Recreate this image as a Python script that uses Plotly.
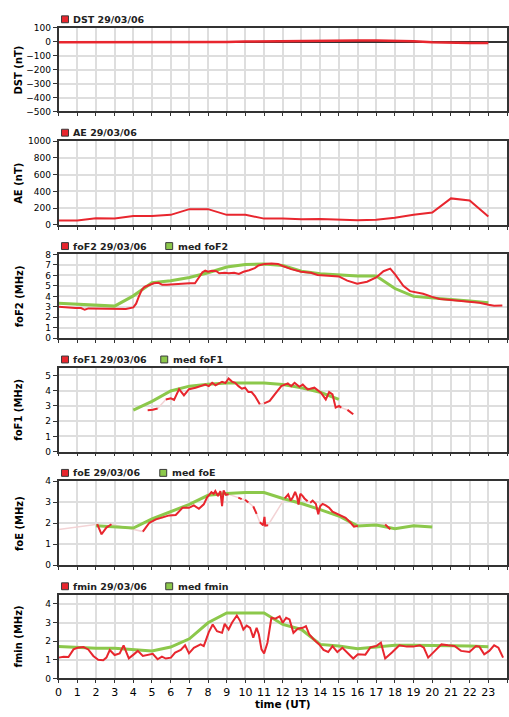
import plotly.graph_objects as go

# ---------------- data ----------------
hours24 = list(range(24))
tick_hours = list(range(25))
tick_labels = [str(h) for h in range(24)] + ["0"]

dst_values = [-5, -5, -4, -4, -2, 0, -2, -3, -3, -2, 1, 3, 5, 6, 7, 8, 8, 8, 6, 2, -4, -8, -9, -9]
ae_values = [52, 52, 80, 75, 105, 105, 120, 188, 188, 120, 120, 75, 75, 68, 70, 65, 55, 60, 84, 120, 148, 316, 292, 100]

fof2_hours = [0.0, 0.3, 0.6, 0.9, 1.2, 1.4, 1.6, 2.0, 2.5, 3.0, 3.3, 3.6, 4.0, 4.15, 4.3, 4.45, 4.6, 4.85,
              5.1, 5.35, 5.55, 5.8, 6.1, 6.4, 6.7, 7.0, 7.3, 7.5, 7.7, 7.85, 8.0, 8.2, 8.45, 8.6, 8.9, 9.1,
              9.4, 9.65, 9.9, 10.2, 10.5, 10.7, 11.04, 11.39, 11.74, 12.0, 12.45, 12.98, 13.51, 13.86,
              14.39, 15.0, 15.45, 15.98, 16.51, 17.0, 17.39, 17.75, 18.01, 18.45, 18.81, 19.16, 19.51,
              20.0, 20.39, 21.0, 21.63, 22.0, 22.52, 23.01, 23.31, 23.75]
fof2_values = [3.0, 2.95, 2.95, 2.9, 2.88, 2.72, 2.85, 2.85, 2.85, 2.82, 2.82, 2.8, 2.95, 3.3, 4.0, 4.6, 4.9, 5.1,
               5.25, 5.3, 5.1, 5.1, 5.15, 5.2, 5.25, 5.25, 5.25, 5.8, 6.3, 6.45, 6.35, 6.45, 6.4, 6.2, 6.25, 6.2,
               6.25, 6.15, 6.35, 6.5, 6.7, 6.95, 7.1, 7.15, 7.1, 6.9, 6.6, 6.35, 6.25, 6.05,
               5.95, 5.9, 5.5, 5.2, 5.4, 5.8, 6.4, 6.65, 6.1, 5.0, 4.5, 4.35, 4.25,
               3.95, 3.75, 3.65, 3.55, 3.55, 3.4, 3.2, 3.1, 3.13]
fof2_med = [3.35, 3.25, 3.15, 3.07, 4.05, 5.3, 5.5, 5.8, 6.25, 6.8, 7.05, 7.1, 6.95, 6.4, 6.15, 6.05, 5.95, 5.95,
            4.75, 4.0, 3.83, 3.65, 3.55, 3.4]

fof1_hours = [4.77, 5.04, 5.3, None, 5.74, 6.01, 6.18, 6.45, 6.71, 6.98, 7.33, 7.69, 7.85, 8.04, 8.22, 8.4, 8.57,
              8.75, 8.93, 9.1, 9.28, 9.45, 9.63, 9.81, 9.98, 10.16, 10.33, 10.51, 10.77, None,
              11.0, 11.3, 11.57, 11.92, 12.27, 12.45, 12.63, 12.89, 13.07, 13.33, 13.69, 14.04, 14.3, 14.48,
              14.66, 14.83, 15.01, 15.13, None, 15.46, 15.77]
fof1_values = [2.72, 2.75, 2.83, None, 3.43, 3.5, 3.4, 4.1, 3.7, 4.1, 4.2, 4.35, 4.41, 4.3, 4.52, 4.35, 4.45,
               4.59, 4.5, 4.8, 4.6, 4.52, 4.3, 4.13, 4.2, 3.91, 3.91, 3.65, 3.11, None,
               3.17, 3.33, 3.76, 4.3, 4.48, 4.3, 4.52, 4.26, 4.41, 4.09, 4.2, 3.87, 3.43, 3.91,
               3.76, 2.89, 3.0, 2.89, None, 2.74, 2.46]
fof1_med_hours = [4, 5, 6, 7, 8, 9, 10, 11, 12, 13, 14, 15]
fof1_med = [2.72, 3.3, 3.98, 4.3, 4.43, 4.5, 4.5, 4.5, 4.41, 4.2, 3.9, 3.43]

foe_hours = [0.0, None, 2.07, 2.3, 2.56, 2.83, None,
             4.51, 4.86, 5.21, 5.57, 5.92, 6.27, 6.63, 6.98, 7.24, 7.51, 7.77, 7.95, 8.18, 8.3, 8.39, 8.53,
             8.66, 8.75, 8.83, 8.96, 9.1, None,
             9.62, 9.8, None, 9.98, 10.16, None, 10.42, 10.6, None,
             10.77, 10.95, 11.02, 11.06, 11.21, None,
             12.1, 12.29, 12.42, 12.54, 12.66, 12.77, 12.84, 12.94, 13.07, 13.16, 13.33, None,
             13.47, 13.6, 13.77, 13.9, 14.0, 14.13, 14.3, 14.48, 14.66, 14.89, 15.1, 15.36, 15.63, 15.81, 16.02,
             None, 17.48, 17.6, 17.75]
foe_values = [1.7, None, 1.95, 1.47, 1.79, 1.95, None,
              1.6, 2.02, 2.18, 2.26, 2.37, 2.39, 2.73, 2.73, 2.85, 2.69, 2.9, 3.23, 3.48, 3.4, 3.53, 3.3,
              3.53, 2.81, 3.56, 3.35, 3.38, None,
              3.22, 3.15, None, 3.12, 2.99, None, 2.8, 2.44, None,
              2.04, 1.9, 2.3, 1.88, 1.9, None,
              3.18, 3.37, 3.08, 3.24, 3.49, 3.24, 2.89, 3.4, 3.29, 3.18, 3.05, None,
              2.97, 3.08, 2.92, 2.42, 2.81, 2.92, 2.85, 2.74, 2.55, 2.45, 2.34, 2.26, 2.02, 1.83, 1.87,
              None, 1.94, 1.82, 1.71]
foe_med_hours = list(range(2, 21))
foe_med = [1.88, 1.83, 1.77, 2.2, 2.55, 2.9, 3.33, 3.42, 3.46, 3.46, 3.18, 2.94, 2.65, 2.34, 1.87, 1.91, 1.74,
           1.88, 1.82]

fmin_hours = [0.0, 0.27, 0.53, 0.8, 1.01, 1.33, 1.59, 1.86, 2.12, 2.39, 2.56, 2.74, 3.0, 3.27, 3.48, 3.76, 4.01,
              4.24, 4.51, 4.86, 5.04, 5.3, 5.53, 5.74, 6.01, 6.24, 6.54, 6.77, 6.98, 7.24, 7.6, 7.77, 8.04,
              8.25, 8.48, 8.75, 8.89, 9.1, 9.28, 9.54, 9.72, 9.89, 10.07, 10.25, 10.42, 10.6, 10.72, 10.86,
              11.0, 11.18, 11.39, 11.6, 11.83, 12.0, 12.18, 12.36, 12.57, 12.8, 13.07, 13.24, 13.42, 13.69,
              13.95, 14.18, 14.43, 14.66, 14.92, 15.19, 15.54, 15.77, 16.02, 16.42, 16.69, 17.0, 17.25, 17.48,
              17.84, 18.24, 18.63, 18.98, 19.34, 19.55, 19.78, 20.13, 20.49, 20.84, 21.19, 21.54, 21.99, 22.34,
              22.52, 22.78, 23.05, 23.31, 23.54, 23.79]
fmin_values = [1.12, 1.17, 1.15, 1.56, 1.65, 1.69, 1.56, 1.21, 1.0, 0.98, 1.12, 1.53, 1.26, 1.35, 1.78, 1.08, 1.28,
               1.48, 1.21, 1.26, 1.32, 1.03, 1.17, 1.07, 1.12, 1.39, 1.53, 1.78, 1.35, 1.65, 1.83, 1.74, 2.49,
               2.9, 2.54, 2.45, 2.93, 2.63, 2.99, 3.38, 3.08, 2.63, 2.84, 2.72, 2.19, 2.72, 2.36, 1.56,
               1.35, 1.92, 3.26, 3.21, 3.34, 2.99, 3.26, 3.17, 2.45, 2.67, 2.72, 2.81, 2.36, 2.06,
               1.83, 1.53, 1.42, 1.74, 1.42, 1.65, 1.3, 1.07, 1.3, 1.28, 1.67, 1.74, 1.92, 1.07,
               1.39, 1.78, 1.71, 1.71, 1.78, 1.65, 1.12, 1.48, 1.83, 1.78, 1.74, 1.48, 1.42, 1.74,
               1.71, 1.3, 1.48, 1.78, 1.65, 1.12]
fmin_med = [1.72, 1.65, 1.62, 1.62, 1.56, 1.48, 1.69, 2.13, 2.99, 3.52, 3.52, 3.52, 2.9, 2.63, 1.83, 1.74, 1.6,
            1.7, 1.78, 1.78, 1.78, 1.78, 1.74, 1.7]

# ---------------- styling ----------------
W, H = 509, 717
X0, X1 = 55, 507
RED = "#e8262e"
GREEN = "#8cc84b"
FAINT = "#f3d3d5"
GRID = "#dedede"
FRAME = "#333333"
FONT = "DejaVu Sans"

panels = [
    # (top px, bottom px, y range, dtick, title, legend1, legend2, legend2 x)
    (23, 108, [-500, 100], 100, "DST (nT)", "DST 29/03/06", None, None),
    (138, 223, [0, 1000], 200, "AE (nT)", "AE 29/03/06", None, None),
    (253, 338, [0, 8], 1, "foF2 (MHz)", "foF2 29/03/06", "med foF2", 163),
    (368, 453, [0, 5.5], 1, "foF1 (MHz)", "foF1 29/03/06", "med foF1", 158),
    (483, 568, [0, 4], 1, "foE (MHz)", "foE 29/03/06", "med foE", 157),
    (598, 683, [0, 4.5], 1, "fmin (MHz)", "fmin 29/03/06", "med fmin", 163),
]

fig = go.Figure()


def add(i, x, y, color, width, connect=False):
    sfx = "" if i == 1 else str(i)
    fig.add_trace(go.Scatter(x=x, y=y, mode="lines", line=dict(color=color, width=width),
                             connectgaps=connect, showlegend=False, hoverinfo="skip",
                             xaxis="x" + sfx, yaxis="y" + sfx))


add(1, hours24, dst_values, RED, 2.5)
add(2, hours24, ae_values, RED, 2)
add(3, hours24, fof2_med, GREEN, 3)
add(3, fof2_hours, fof2_values, RED, 2)
add(4, fof1_hours, fof1_values, FAINT, 1.5, connect=True)
add(4, fof1_med_hours, fof1_med, GREEN, 3)
add(4, fof1_hours, fof1_values, RED, 2)
add(5, foe_hours, foe_values, FAINT, 1.5, connect=True)
add(5, foe_med_hours, foe_med, GREEN, 3)
add(5, foe_hours, foe_values, RED, 2)
add(6, hours24, fmin_med, GREEN, 3)
add(6, fmin_hours, fmin_values, RED, 2)

layout = dict(width=W, height=H, margin=dict(l=0, r=0, t=0, b=0), paper_bgcolor="white",
              plot_bgcolor="white", showlegend=False, font=dict(family=FONT, color="#000"))
annotations = []
shapes = []
for i, (top, bot, yr, dt, title, leg1, leg2, leg2x) in enumerate(panels, start=1):
    sfx = "" if i == 1 else str(i)
    last = i == len(panels)
    layout["xaxis" + sfx] = dict(
        domain=[X0 / W, X1 / W], anchor="y" + sfx, range=[0, 24], tickmode="array",
        tickvals=tick_hours, ticktext=tick_labels, showticklabels=last,
        tickfont=dict(size=11, family=FONT, color="#000"), ticks="outside", ticklen=3,
        tickcolor=FRAME, showgrid=True, gridcolor=GRID, gridwidth=2, zeroline=False,
        showline=True, mirror=True, linecolor=FRAME, linewidth=1.5, fixedrange=True,
    )
    layout["yaxis" + sfx] = dict(
        domain=[1 - bot / H, 1 - top / H], anchor="x" + sfx, range=yr, dtick=dt, tick0=0,
        tickfont=dict(size=9, family=FONT, color="#000"), ticks="outside", ticklen=4,
        tickcolor=FRAME, showgrid=True, gridcolor=GRID, gridwidth=2,
        zeroline=(i == 1), zerolinecolor=FRAME, zerolinewidth=1.5,
        showline=True, mirror=True, linecolor=FRAME, linewidth=1.5, fixedrange=True,
    )
    # y axis title
    annotations.append(dict(text="<b>%s</b>" % title, x=15 / W, y=1 - (top + bot) / 2 / H,
                            xref="paper", yref="paper", xanchor="center", yanchor="middle",
                            textangle=-90, showarrow=False,
                            font=dict(size=10, family=FONT, color="#000")))
    # legend
    ly = top - 8.5
    items = [(leg1, 58, RED)]
    if leg2:
        items.append((leg2, leg2x, GREEN))
    for text, sx, col in items:
        shapes.append(dict(type="rect", xref="paper", yref="paper",
                           x0=sx / W, x1=(sx + 7) / W, y0=1 - (ly - 3.5) / H, y1=1 - (ly + 3.5) / H,
                           fillcolor=col, line=dict(color="#3a3a3a", width=1)))
        annotations.append(dict(text="<b>%s</b>" % text, x=(sx + 10) / W, y=1 - ly / H,
                                xref="paper", yref="paper", xanchor="left", yanchor="middle",
                                showarrow=False, font=dict(size=9.5, family=FONT, color="#222")))

annotations.append(dict(text="<b>time (UT)</b>", x=(X0 + X1) / 2 / W, y=1 - 717 / H,
                        xref="paper", yref="paper", xanchor="center", yanchor="bottom",
                        showarrow=False, font=dict(size=10.5, family=FONT, color="#000")))
layout["annotations"] = annotations
layout["shapes"] = shapes
fig.update_layout(**layout)

fig.write_html("out.html")
